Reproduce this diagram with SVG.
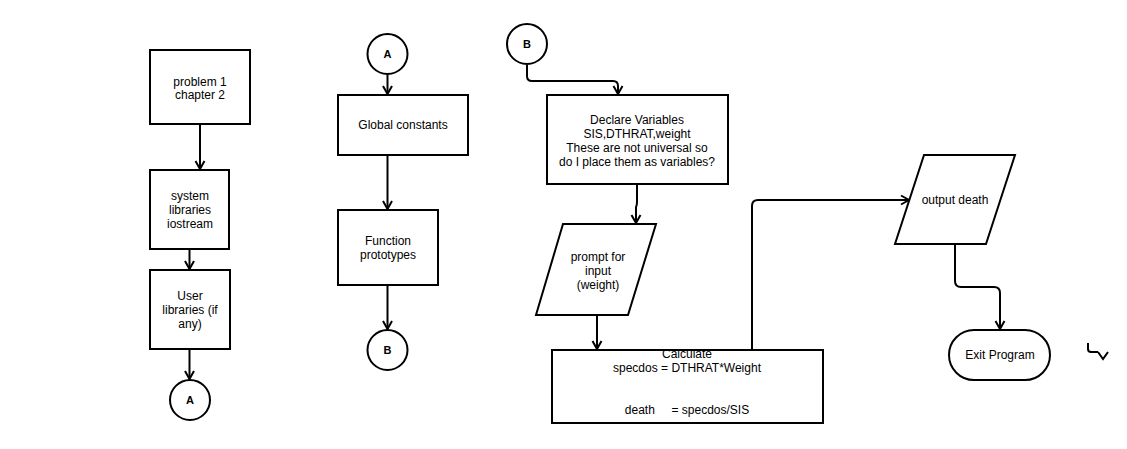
<svg xmlns="http://www.w3.org/2000/svg" width="1127" height="449" viewBox="0 0 1127 449">
<defs>
<marker id="arr" markerWidth="12" markerHeight="12" refX="10" refY="6" orient="auto" markerUnits="userSpaceOnUse" viewBox="0 0 12 12">
<path d="M2,1.5 L10,6 L2,10.5" fill="none" stroke="#000" stroke-width="2"/>
</marker>
</defs>
<style>
.shape{fill:#fff;stroke:#000;stroke-width:2}
.t{font-family:"Liberation Sans",Arial,sans-serif;font-size:12px;fill:#000;text-anchor:middle}
.c{font-family:"Liberation Sans",Arial,sans-serif;font-size:11px;font-weight:bold;fill:#000;text-anchor:middle}
.edge{fill:none;stroke:#000;stroke-width:2;marker-end:url(#arr)}
</style>
<rect width="1127" height="449" fill="#fff"/>
<g id="connectors">
<path class="edge" d="M200,124 V169"/>
<path class="edge" d="M189.5,249 V269"/>
<path class="edge" d="M189.5,349 V379"/>
<path class="edge" d="M387.5,74 V94"/>
<path class="edge" d="M387.5,155 V209"/>
<path class="edge" d="M387.5,285 V329"/>
<path class="edge" d="M527,65 V76 Q527,81 532,81 H613 Q618,81 618,86 V94"/>
<path class="edge" d="M637,184 V202 Q637,205 636,207 V223"/>
<path class="edge" d="M597,315 V349"/>
<path class="edge" d="M752,350 V206 Q752,200 758,200 H909"/>
<path class="edge" d="M955,244 V281 Q955,287 961,287 H994 Q1000,287 1000,293 V329"/>
<path d="M1088,343 V349 Q1088,352 1091,352 H1098" fill="none" stroke="#000" stroke-width="2"/>
<path d="M1098,352 L1103,359 L1108,352" fill="none" stroke="#000" stroke-width="2"/>
</g>
<g id="n-problem">
<rect class="shape" x="150" y="50" width="100" height="74"/>
<text class="t" x="200" y="86">problem 1</text>
<text class="t" x="200" y="99">chapter 2</text>
</g>
<g id="n-syslib">
<rect class="shape" x="150" y="170" width="79" height="79"/>
<text class="t" x="190" y="200">system</text>
<text class="t" x="190" y="214">libraries</text>
<text class="t" x="190" y="228">iostream</text>
</g>
<g id="n-userlib">
<rect class="shape" x="150" y="270" width="80" height="79"/>
<text class="t" x="190" y="300">User</text>
<text class="t" x="190" y="314">libraries (if</text>
<text class="t" x="190" y="328">any)</text>
</g>
<g id="n-A1">
<circle class="shape" cx="190" cy="400" r="20"/>
<text class="c" x="190" y="404">A</text>
</g>
<g id="n-A2">
<circle class="shape" cx="387.5" cy="54" r="20"/>
<text class="c" x="387.5" y="58">A</text>
</g>
<g id="n-global">
<rect class="shape" x="338" y="95" width="130" height="60"/>
<text class="t" x="403" y="129">Global constants</text>
</g>
<g id="n-proto">
<rect class="shape" x="338" y="210" width="100" height="75"/>
<text class="t" x="388" y="245">Function</text>
<text class="t" x="388" y="259">prototypes</text>
</g>
<g id="n-B1">
<circle class="shape" cx="387.5" cy="350" r="20"/>
<text class="c" x="387.5" y="354">B</text>
</g>
<g id="n-B2">
<circle class="shape" cx="527" cy="44" r="20"/>
<text class="c" x="527" y="48">B</text>
</g>
<g id="n-declare">
<rect class="shape" x="547" y="95" width="181" height="89"/>
<text class="t" x="637" y="124">Declare Variables</text>
<text class="t" x="637" y="138">SIS,DTHRAT,weight</text>
<text class="t" x="637" y="152">These are not universal so</text>
<text class="t" x="637" y="166">do I place them as variables?</text>
</g>
<g id="n-prompt">
<polygon class="shape" points="563,224 656,224 628,315 536,315"/>
<text class="t" x="598" y="261">prompt for</text>
<text class="t" x="598" y="275">input</text>
<text class="t" x="598" y="289">(weight)</text>
</g>
<g id="n-calc">
<rect class="shape" x="552" y="350" width="271" height="73"/>
<text class="t" x="687" y="358">Calculate</text>
<text class="t" x="687" y="372">specdos = DTHRAT*Weight</text>
<text class="t" x="687" y="414" xml:space="preserve">death     = specdos/SIS</text>
</g>
<g id="n-output">
<polygon class="shape" points="924,155 1015,155 986,244 895,244"/>
<text class="t" x="955" y="204">output death</text>
</g>
<g id="n-exit">
<rect class="shape" x="949" y="330" width="101" height="50" rx="25" ry="25"/>
<text class="t" x="1000" y="359">Exit Program</text>
</g>
</svg>
